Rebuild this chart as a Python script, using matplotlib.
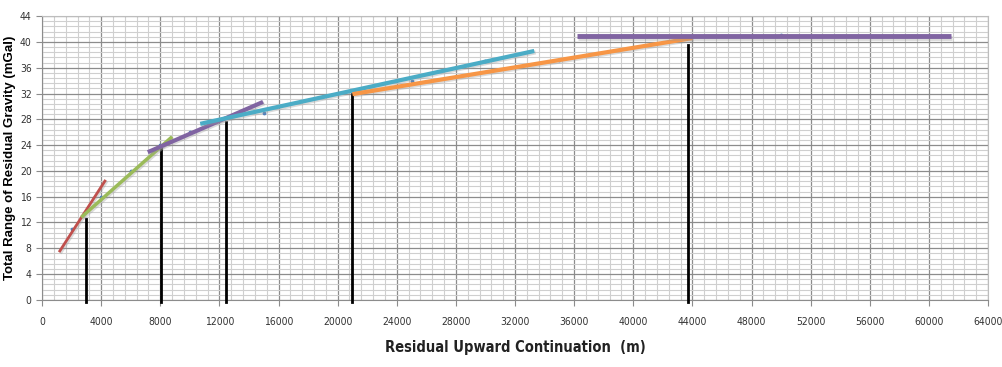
import matplotlib
matplotlib.use("Agg")
import matplotlib.pyplot as plt
import matplotlib.patheffects as pe
import numpy as np
from matplotlib.ticker import MultipleLocator

# Observed data points (small blue markers)
obs_x = [2000, 4000, 6000, 8000, 10000, 15000, 25000, 30000, 35000, 50000]
obs_y = [11.0, 16.0, 20.0, 24.0, 26.0, 29.0, 34.0, 37.0, 37.2, 41.0]

# Fitted segments: (x start, x end), (y start, y end)
seg_names = ["red", "green", "purple1", "cyan", "orange", "purple2"]
seg_x = [(1150, 4300), (2650, 8800), (7150, 14950), (10700, 33300), (21000, 44000), (36200, 61500)]
seg_y = [(7.4, 18.6), (12.8, 25.3), (22.9, 30.7), (27.3, 38.6), (31.9, 40.6), (40.9, 40.9)]
seg_colors = ["#C0504D", "#9BBB59", "#8064A2", "#4BACC6", "#F79646", "#8064A2"]
seg_widths = [2.0, 2.5, 3.0, 3.0, 3.0, 3.5]

# Break points (vertical black lines)
break_x = [3000, 8050, 12450, 21000, 43700]
break_top = [12.6, 23.4, 27.6, 31.9, 39.5]


def main():
    fig = plt.figure(figsize=(10.02, 3.67), dpi=100)
    ax = fig.add_axes([0.042, 0.183, 0.944, 0.773])

    ax.set_xlim(0, 64000)
    ax.set_ylim(0, 44)
    ax.xaxis.set_major_locator(MultipleLocator(4000))
    ax.xaxis.set_minor_locator(MultipleLocator(800))
    ax.yaxis.set_major_locator(MultipleLocator(4))
    ax.yaxis.set_minor_locator(MultipleLocator(0.8))
    ax.grid(which="major", color="#8c8c8c", linewidth=0.9)
    ax.grid(which="minor", color="#cfcfcf", linewidth=0.8)
    ax.set_axisbelow(True)

    for s in ["top", "right"]:
        ax.spines[s].set_color("#bdbdbd")
    ax.spines["left"].set_color("#8c8c8c")
    ax.spines["bottom"].set_color("#8c8c8c")
    ax.tick_params(which="minor", length=0)
    ax.tick_params(which="major", length=4, color="#8c8c8c", labelsize=7.5)
    ax.tick_params(axis="x", pad=8)
    for lab in ax.get_xticklabels() + ax.get_yticklabels():
        lab.set_fontfamily("DejaVu Sans")
        lab.set_fontstretch("condensed")
        lab.set_color("#333333")

    ax.scatter(obs_x, obs_y, s=3, color="#4F81BD", zorder=2)

    for i in range(len(break_x)):
        ax.plot([break_x[i], break_x[i]], [-0.4, break_top[i]], color="black",
                linewidth=2.0, clip_on=False, zorder=3)

    shadow = [pe.SimpleLineShadow(offset=(1, -1), shadow_color="#999999", alpha=0.35), pe.Normal()]
    for i in range(len(seg_names)):
        ax.plot(seg_x[i], seg_y[i], color=seg_colors[i], linewidth=seg_widths[i],
                solid_capstyle="butt", path_effects=shadow, zorder=4)

    ax.set_xlabel("Residual Upward Continuation  (m)", fontsize=10.5, fontweight="semibold",
                  family="DejaVu Sans", fontstretch="condensed", labelpad=10, color="#222222")
    ax.set_ylabel("Total Range of Residual Gravity (mGal)", fontsize=9.5, fontweight="bold",
                  family="Liberation Sans", labelpad=3)

    fig.savefig("out.png", dpi=100)


if __name__ == "__main__":
    main()
